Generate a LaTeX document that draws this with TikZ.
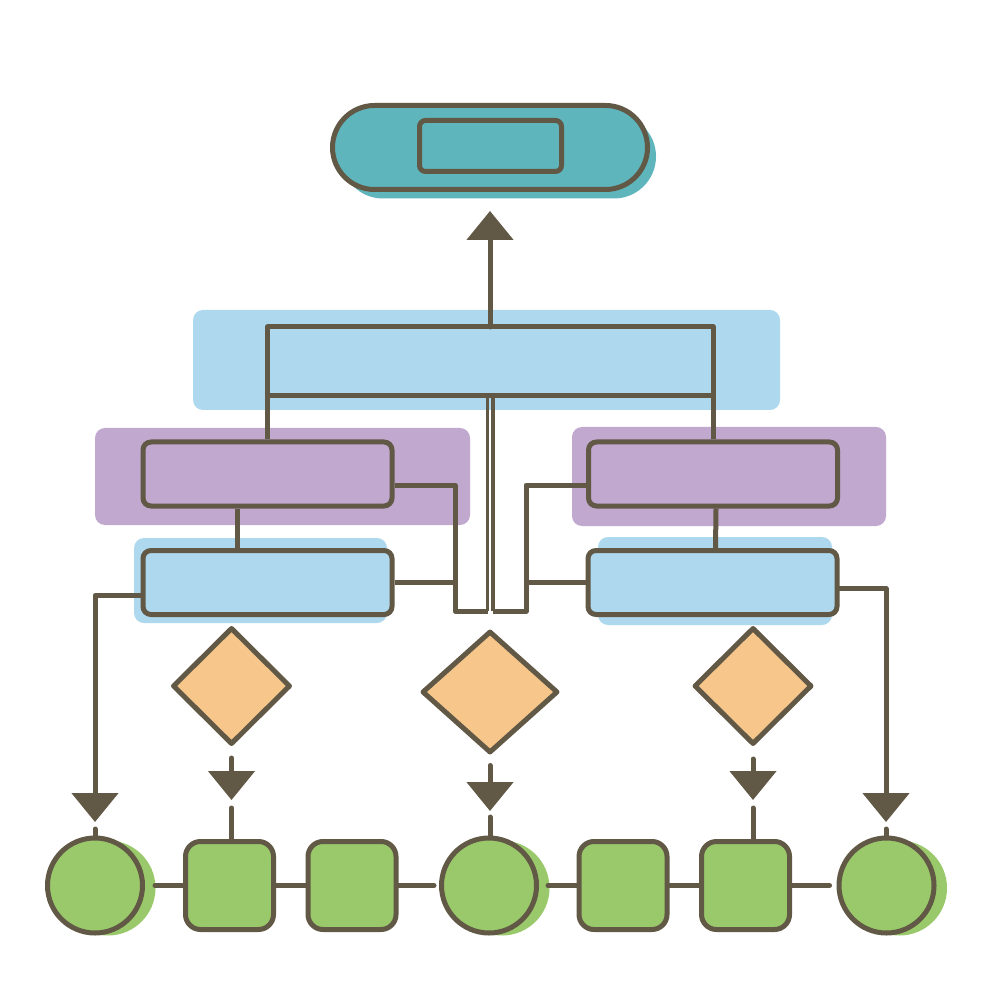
\documentclass[tikz,border=0pt]{standalone}
\usetikzlibrary{shapes.geometric,arrows.meta,shadows}
\definecolor{ink}{RGB}{98,88,70}
\definecolor{tealc}{RGB}{95,181,188}
\definecolor{skyc}{RGB}{174,216,238}
\definecolor{lilac}{RGB}{192,168,206}
\definecolor{peach}{RGB}{246,198,138}
\definecolor{leaf}{RGB}{154,201,107}
\begin{document}
\begin{tikzpicture}[x=1mm,y=-1mm, color=ink, line width=0.5mm, line join=round,
      bg/.style={rounded corners=1mm, inner sep=0pt},
      box/.style={draw, rounded corners=0.8mm, inner sep=0pt, minimum width=24.9mm, minimum height=6.4mm},
      dec/.style={diamond, draw, fill=peach, inner sep=0pt},
      sq/.style={draw, fill=leaf, rounded corners=1.5mm, inner sep=0pt, minimum size=8.8mm},
      ball/.style={circle, draw, fill=leaf, inner sep=0pt, minimum size=9.5mm,
        drop shadow={shadow xshift=1.3mm, shadow yshift=-0.25mm, fill=leaf, opacity=1}},
      link/.style={line cap=round},
      arr/.style={-{Triangle[width=4.6mm,length=2.9mm]}, line cap=round}]
    \useasboundingbox (0,0) rectangle (100,100);
    \fill[white] (0,0) rectangle (100,100);
    \node (bgtop) [bg, fill=skyc, minimum width=58.7mm, minimum height=10mm] at (48.65,36) {};
    \node (bgpl) [bg, fill=lilac, minimum width=37.5mm, minimum height=9.7mm] at (28.25,47.65) {};
    \node (bgpr) [bg, fill=lilac, minimum width=31.4mm, minimum height=9.9mm] at (72.9,47.65) {};
    \node (bgbl) [bg, fill=skyc, minimum width=25.3mm, minimum height=8.5mm] at (26.05,58.05) {};
    \node (bgbr) [bg, fill=skyc, minimum width=23.4mm, minimum height=8.8mm] at (71.5,58.1) {};
    \node (term) [draw, fill=tealc, rounded corners=4.2mm, inner sep=0pt,
      minimum width=31.5mm, minimum height=8.4mm,
      drop shadow={shadow xshift=0.85mm, shadow yshift=-0.9mm, fill=tealc, opacity=1}] at (49,14.75) {};
    \node (label) [draw, fill=tealc, rounded corners=0.6mm, inner sep=0pt,
      minimum width=14.2mm, minimum height=5.1mm] at (49.05,14.6) {};
    \node (pl) [box, fill=lilac] at (26.75,47.4) {};
    \node (pr) [box, fill=lilac] at (71.3,47.4) {};
    \node (bl) [box, fill=skyc] at (26.75,58.25) {};
    \node (br) [box, fill=skyc] at (71.25,58.25) {};
    \node (d1) [dec, minimum width=11.8mm, minimum height=11.7mm] at (23.15,68.6) {};
    \node (d2) [dec, minimum width=13.6mm, minimum height=12.2mm] at (49,69.2) {};
    \node (d3) [dec, minimum width=11.8mm, minimum height=11.7mm] at (75.3,68.6) {};
    \node (c1) [ball] at (9.5,88.55) {};
    \node (s1) [sq] at (22.95,88.55) {};
    \node (s2) [sq] at (35.2,88.55) {};
    \node (c2) [ball] at (48.9,88.55) {};
    \node (s3) [sq] at (62.3,88.55) {};
    \node (s4) [sq] at (74.55,88.55) {};
    \node (c3) [ball] at (88.65,88.55) {};
    \coordinate (hub) at (49,32.7);
    \coordinate (busl) at (48.76,39.6);
    \coordinate (busr) at (49.3,39.6);
    \coordinate (jl) at (45.5,61.1);
    \coordinate (jr) at (52.6,61.1);
    \coordinate (tl) at (9.5,82.2);
    \coordinate (tr) at (88.6,82.2);
    \coordinate (t1) at (23.15,80);
    \coordinate (t2) at (49,81.1);
    \coordinate (t3) at (75.3,80);
    \draw (pl.north) |- (hub) -| (pr.north);
    \draw[arr, shorten >=1.9mm] (hub) -- (term.south);
    \draw (pl.north |- busl) -- (pr.north |- busl);
    \draw ([xshift=-3mm]pl.south) -- ([xshift=-3mm]bl.north);
    \draw ([xshift=0.3mm]pr.south) -- ([xshift=0.3mm]br.north);
    \draw ([yshift=-1.1mm]pl.east) -| (jl) -- (jl -| busl);
    \draw ([yshift=-1.1mm]pr.west) -| (jr) -- (jr -| busr);
    \draw[line width=0.32mm] (jl -| busl) -- (busl);
    \draw[line width=0.32mm] (jr -| busr) -- (busr);
    \draw (bl.east) -- (bl.east -| jl);
    \draw (br.west) -- (br.west -| jr);
    \draw[arr] ([yshift=-1.3mm]bl.west) -| (tl);
    \draw[arr] ([yshift=-0.6mm]br.east) -| (tr);
    \draw[arr] ([yshift=-1.1mm]d1.south) -- (t1);
    \draw[arr] ([yshift=-1mm]d2.south) -- (t2);
    \draw[arr] ([yshift=-1.2mm]d3.south) -- (t3);
    \draw[link] ([yshift=-0.7mm]tl) -- (tl |- c1.north);
    \draw[link] ([yshift=-0.7mm]tr) -- (tr |- c3.north);
    \draw[link] ([yshift=-0.8mm]t1) -- (t1 |- s1.north);
    \draw[link] ([yshift=-0.6mm]t2) -- (t2 |- c2.north);
    \draw[link] ([yshift=-0.8mm]t3) -- (t3 |- s4.north);
    \draw[link, shorten <=1mm] (c1) -- (s1);
    \draw[link] (s1) -- (s2);
    \draw[link, shorten >=0.5mm] (s2) -- (c2);
    \draw[link, shorten <=0.9mm] (c2) -- (s3);
    \draw[link] (s3) -- (s4);
    \draw[link, shorten >=0.7mm] (s4) -- (c3);
\end{tikzpicture}
\end{document}
